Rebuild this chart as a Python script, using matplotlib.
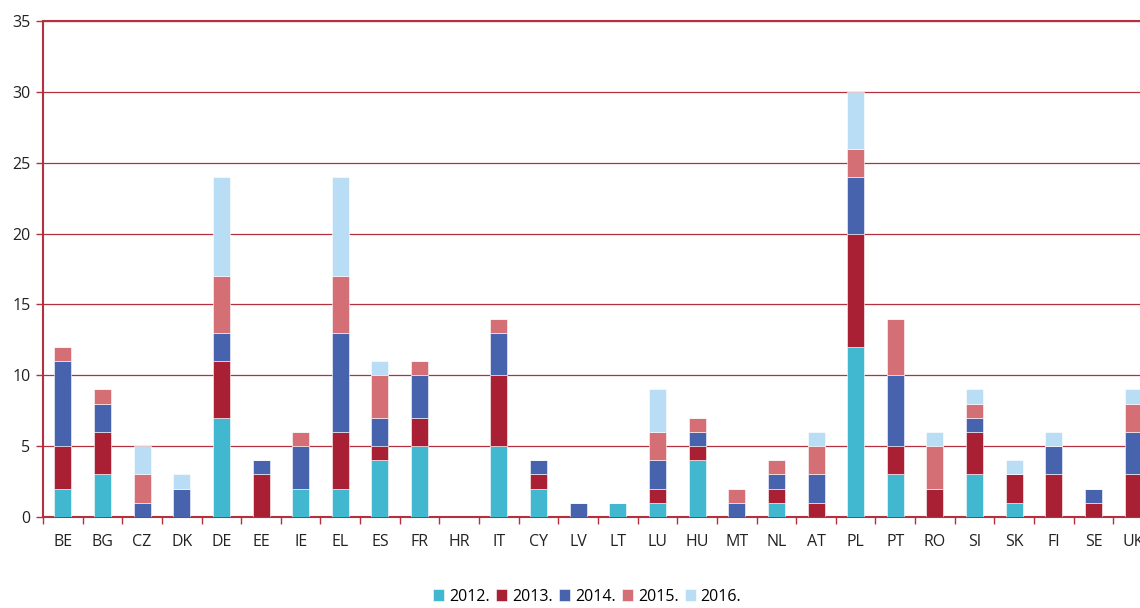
import numpy as np
import matplotlib.pyplot as plt

countries = ["BE", "BG", "CZ", "DK", "DE", "EE", "IE", "EL", "ES", "FR", "HR", "IT", "CY", "LV",
             "LT", "LU", "HU", "MT", "NL", "AT", "PL", "PT", "RO", "SI", "SK", "FI", "SE", "UK"]
years = ["2012.", "2013.", "2014.", "2015.", "2016."]

v2012 = [2, 3, 0, 0, 7, 0, 2, 2, 4, 5, 0, 5, 2, 0, 1, 1, 4, 0, 1, 0, 12, 3, 0, 3, 1, 0, 0, 0]
v2013 = [3, 3, 0, 0, 4, 3, 0, 4, 1, 2, 0, 5, 1, 0, 0, 1, 1, 0, 1, 1, 8, 2, 2, 3, 2, 3, 1, 3]
v2014 = [6, 2, 1, 2, 2, 1, 3, 7, 2, 3, 0, 3, 1, 1, 0, 2, 1, 1, 1, 2, 4, 5, 0, 1, 0, 2, 1, 3]
v2015 = [1, 1, 2, 0, 4, 0, 1, 4, 3, 1, 0, 1, 0, 0, 0, 2, 1, 1, 1, 2, 2, 4, 3, 1, 0, 0, 0, 2]
v2016 = [0, 0, 2, 1, 7, 0, 0, 7, 1, 0, 0, 0, 0, 0, 0, 3, 0, 0, 0, 1, 4, 0, 1, 1, 1, 1, 0, 1]

colors = ["#41b8d0", "#a92035", "#4763ad", "#d46f75", "#b9ddf5"]
grid_red = "#b5303f"

plt.rcParams['font.family'] = ['Open Sans', 'DejaVu Sans']

fig = plt.figure(figsize=(11.4, 6.08), dpi=100)
ax = fig.add_axes([43 / 1140, 91 / 608, 1110 / 1140, 496 / 608])

x = np.arange(len(countries))
bottom = np.zeros(len(countries))
for vals, col, lab in zip([v2012, v2013, v2014, v2015, v2016], colors, years):
    vals = np.array(vals, dtype=float)
    ax.bar(x, vals, width=0.43, bottom=bottom, color=col, edgecolor="white",
           linewidth=0.4, label=lab, zorder=3)
    bottom += vals

ax.set_xlim(-0.5, len(countries) - 0.5)
ax.set_ylim(0, 35)
ax.set_yticks(range(0, 36, 5))
ax.yaxis.grid(True, color=grid_red, linewidth=0.9, zorder=0)
ax.set_axisbelow(True)

ax.set_xticks(x)
ax.set_xticklabels(countries, fontsize=11.5, color="#222222")
ax.set_xticks(np.arange(-0.5, len(countries), 1), minor=True)
ax.tick_params(axis="x", which="major", length=0, pad=12)
ax.tick_params(axis="x", which="minor", length=5, color=grid_red, width=1)
ax.tick_params(axis="y", length=5, color=grid_red, width=1, labelsize=11.5,
               labelcolor="#222222", pad=4)

ax.spines["right"].set_visible(False)
for side in ["top", "left", "bottom"]:
    ax.spines[side].set_color(grid_red)
    ax.spines[side].set_linewidth(1.5)

fig.legend(loc="lower center", bbox_to_anchor=(0.515, -0.018), ncol=5, frameon=False,
           fontsize=11.5, handlelength=0.7, handleheight=0.7, handletextpad=0.3,
           columnspacing=0.4)

fig.savefig("out.png", dpi=100)
